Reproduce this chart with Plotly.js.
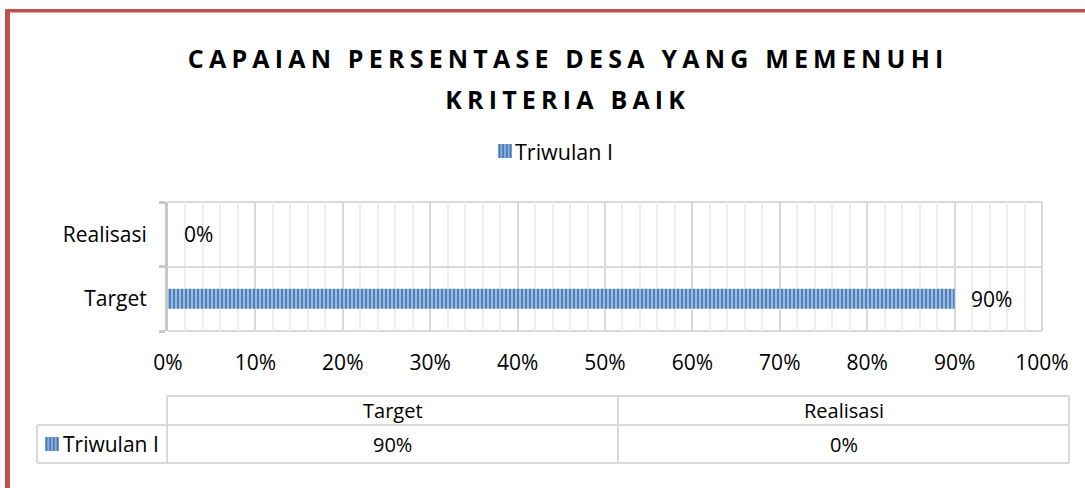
<!DOCTYPE html>
<html>
<head>
<meta charset="utf-8">
<script src="https://cdn.plot.ly/plotly-3.0.1.min.js"></script>
<style>
html,body{margin:0;padding:0;background:#fff;}
#chart{width:1085px;height:488px;}
</style>
</head>
<body>
<div id="chart"></div>
<script>
// ---- data ----
const titleLines = ['CAPAIAN PERSENTASE DESA YANG MEMENUHI', 'KRITERIA BAIK'];
const categories = ['Target', 'Realisasi'];
const seriesName = 'Triwulan I';
const values = [0.90, 0.00];
const xTickValues = [0, 0.1, 0.2, 0.3, 0.4, 0.5, 0.6, 0.7, 0.8, 0.9, 1.0];

// ---- geometry helpers (pixel -> paper) ----
const W = 1085, H = 488;
const PL = 168, PR = 1042, PT = 202, PB = 331;
const fx = px => (px - PL) / (PR - PL);
const fy = py => (PB - py) / (PB - PT);
const FONT = '"Open Sans", sans-serif';
const pct = v => Math.round(v * 100) + '%';

const barColor = '#4f81bd';
const barLight = '#a9c2e2';
const gridMajor = '#d9d9d9';
const gridMinor = '#eeeeee';
const tableLine = '#d9d9d9';

const trace = {
  type: 'bar',
  orientation: 'h',
  name: seriesName,
  y: categories,
  x: values,
  width: 0.31,
  marker: {
    color: barLight,
    line: {width: 0},
    pattern: {shape: '|', fgcolor: barColor, bgcolor: barLight, size: 4, solidity: 0.55}
  },
  hoverinfo: 'none',
  showlegend: false
};

const shapes = [];
const line = (x0, y0, x1, y1, color, w, layer) => shapes.push({type: 'line', xref: 'paper', yref: 'paper',
  x0: fx(x0), y0: fy(y0), x1: fx(x1), y1: fy(y1), line: {color: color, width: w}, layer: layer || 'above'});

// red frame
shapes.push({type: 'rect', xref: 'paper', yref: 'paper', x0: fx(5), x1: fx(10), y0: fy(9), y1: fy(H + 2), fillcolor: '#c0504d', line: {width: 0}, layer: 'above'});
shapes.push({type: 'rect', xref: 'paper', yref: 'paper', x0: fx(5), x1: fx(W + 2), y0: fy(9), y1: fy(12.5), fillcolor: '#c0504d', line: {width: 0}, layer: 'above'});

// plot frame (category boundaries and right edge)
line(PL, PT, PR, PT, gridMajor, 2, 'below');
line(PL, PB, PR, PB, gridMajor, 2, 'below');
line(PR, PT, PR, PB, gridMajor, 2, 'below');

// data table grid
const tY = [396, 425, 463];
const colX = [37, 167, 618, 1069];
line(colX[1], tY[0], colX[3], tY[0], tableLine, 2);
line(colX[0], tY[1], colX[3], tY[1], tableLine, 2);
line(colX[0], tY[2], colX[3], tY[2], tableLine, 2);
line(colX[0], tY[1], colX[0], tY[2], tableLine, 2);
for (let i = 1; i < colX.length; i++) line(colX[i], tY[0], colX[i], tY[2], tableLine, 2);

// legend key helper (striped swatch)
function swatch(x0, y0, size) {
  shapes.push({type: 'rect', xref: 'paper', yref: 'paper', x0: fx(x0), x1: fx(x0 + size), y0: fy(y0), y1: fy(y0 + size), fillcolor: '#8fb0d9', line: {width: 0}, layer: 'above'});
  for (let k = 0; k < 4; k++) {
    const xx = x0 + 1.5 + k * (size - 3) / 3;
    shapes.push({type: 'line', xref: 'paper', yref: 'paper', x0: fx(xx), x1: fx(xx), y0: fy(y0), y1: fy(y0 + size), line: {color: '#4a7bb9', width: 1.8}, layer: 'above'});
  }
}
swatch(498, 144, 14);  // top legend
swatch(45, 437, 14);   // table key

const annotations = [];
// titles
annotations.push({xref: 'paper', yref: 'paper', x: fx(568), y: fy(58), xanchor: 'center', yanchor: 'middle', showarrow: false,
  text: '<b>' + titleLines[0] + '</b>', font: {family: FONT, size: 25, color: '#000'}});
annotations.push({xref: 'paper', yref: 'paper', x: fx(568), y: fy(99), xanchor: 'center', yanchor: 'middle', showarrow: false,
  text: '<b>' + titleLines[1] + '</b>', font: {family: FONT, size: 25, color: '#000'}});

// legend text
annotations.push({xref: 'paper', yref: 'paper', x: fx(513), y: fy(151), xanchor: 'left', yanchor: 'middle', showarrow: false,
  text: seriesName, font: {family: FONT, size: 21.5, color: '#000'}});

// data labels
categories.forEach((c, i) => {
  annotations.push({xref: 'x', yref: 'y', x: values[i], y: c, xanchor: 'left', yanchor: 'middle', xshift: 14, showarrow: false,
    text: pct(values[i]), font: {family: FONT, size: 21, color: '#000'}});
});

// table texts
categories.forEach((c, i) => {
  const cx = (colX[i + 1] + colX[i + 2]) / 2;
  annotations.push({xref: 'paper', yref: 'paper', x: fx(cx), y: fy(410), xanchor: 'center', yanchor: 'middle', showarrow: false,
    text: c, font: {family: FONT, size: 20, color: '#000'}});
  annotations.push({xref: 'paper', yref: 'paper', x: fx(cx), y: fy(444), xanchor: 'center', yanchor: 'middle', showarrow: false,
    text: pct(values[i]), font: {family: FONT, size: 20, color: '#000'}});
});
annotations.push({xref: 'paper', yref: 'paper', x: fx(61), y: fy(444), xanchor: 'left', yanchor: 'middle', showarrow: false,
  text: seriesName, font: {family: FONT, size: 21, color: '#000'}});

const layout = {
  width: W, height: H,
  margin: {l: PL, r: W - PR, t: PT, b: H - PB, pad: 0},
  paper_bgcolor: '#fff', plot_bgcolor: '#fff',
  font: {family: FONT, size: 21, color: '#000'},
  showlegend: false,
  xaxis: {
    range: [0, 1], tickvals: xTickValues, tickformat: '.0%', ticks: '',
    showgrid: true, gridcolor: gridMajor, gridwidth: 2, zeroline: false, showline: false,
    minor: {dtick: 0.02, showgrid: true, gridcolor: gridMinor, gridwidth: 2, ticks: ''},
    ticklabelstandoff: 17, tickfont: {family: FONT, size: 21, color: '#000'}, fixedrange: true
  },
  yaxis: {
    type: 'category', categoryarray: categories, range: [-0.5, 1.5],
    showline: true, linecolor: '#c8c8c8', linewidth: 3,
    ticks: 'outside', tickson: 'boundaries', ticklen: 6, tickwidth: 3, tickcolor: '#c8c8c8',
    showgrid: true, gridcolor: gridMajor, gridwidth: 2,
    ticklabelstandoff: 14, tickfont: {family: FONT, size: 21, color: '#000'}, fixedrange: true
  },
  shapes: shapes,
  annotations: annotations
};

Plotly.newPlot('chart', [trace], layout, {staticPlot: true, displayModeBar: false}).then(() => {
  document.querySelectorAll('.annotation-text').forEach(t => {
    const s = t.textContent;
    if (s === titleLines[0] || s === titleLines[1]) t.style.letterSpacing = '5.2px';
  });
});
</script>
</body>
</html>
